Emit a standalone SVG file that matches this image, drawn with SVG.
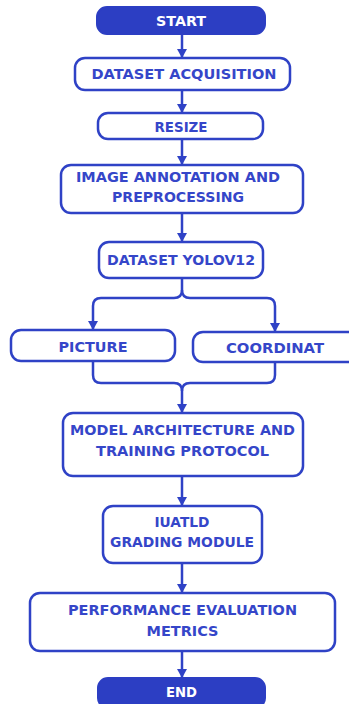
<svg xmlns="http://www.w3.org/2000/svg" width="349" height="704" viewBox="0 0 349 704">
<defs>
<style>
.box{fill:#fff;stroke:#2f42c6;stroke-width:2.5}
.term{fill:#2c3ec3;stroke:#2c3ec3;stroke-width:2}
.t{font-family:"DejaVu Sans","Liberation Sans",sans-serif;font-weight:bold;font-size:13.5px;fill:#3546c9;text-anchor:middle}
.tw{font-family:"DejaVu Sans","Liberation Sans",sans-serif;font-weight:bold;font-size:13.5px;fill:#fff;text-anchor:middle}
.c{fill:none;stroke:#2f42c6;stroke-width:2.5}
</style>
<marker id="ad" markerUnits="userSpaceOnUse" markerWidth="12" markerHeight="10" refX="9" refY="5" orient="auto" viewBox="0 0 12 10">
<path d="M1 0 L10 5 L1 10 Z" fill="#2f42c6"/>
</marker>
</defs>
<rect width="349" height="704" fill="#fff"/>
<g id="connectors">
<path class="c" d="M182 34 V57" marker-end="url(#ad)"/>
<path class="c" d="M182 90 V112" marker-end="url(#ad)"/>
<path class="c" d="M182 139 V164" marker-end="url(#ad)"/>
<path class="c" d="M182 213 V241" marker-end="url(#ad)"/>
<path class="c" d="M182 278 V290 Q182 298 174 298 H101 Q93 298 93 306 V329" marker-end="url(#ad)"/>
<path class="c" d="M182 290 Q182 298 190 298 H267 Q275 298 275 306 V331" marker-end="url(#ad)"/>
<path class="c" d="M93 361 V375 Q93 383 101 383 H174 Q182 383 182 391"/>
<path class="c" d="M275 362 V375 Q275 383 267 383 H190 Q182 383 182 391 V412" marker-end="url(#ad)"/>
<path class="c" d="M182 476 V505" marker-end="url(#ad)"/>
<path class="c" d="M182 563 V592" marker-end="url(#ad)"/>
<path class="c" d="M182 651 V677" marker-end="url(#ad)"/>
</g>
<g id="start"><rect class="term" x="97" y="7" width="168" height="27" rx="10"/><text class="tw" x="181" y="26" textLength="50" lengthAdjust="spacingAndGlyphs">START</text></g>
<g id="acq"><rect class="box" x="75" y="58" width="215" height="32" rx="10"/><text class="t" x="184" y="78.5" textLength="185" lengthAdjust="spacingAndGlyphs">DATASET ACQUISITION</text></g>
<g id="resize"><rect class="box" x="98" y="113" width="165" height="26" rx="10"/><text class="t" x="181" y="131.5" textLength="53" lengthAdjust="spacingAndGlyphs">RESIZE</text></g>
<g id="annot"><rect class="box" x="61" y="165" width="242" height="48" rx="10"/><text class="t" x="178" y="182" textLength="204" lengthAdjust="spacingAndGlyphs">IMAGE ANNOTATION AND</text><text class="t" x="178" y="202" textLength="132" lengthAdjust="spacingAndGlyphs">PREPROCESSING</text></g>
<g id="yolo"><rect class="box" x="99" y="242" width="164" height="36" rx="10"/><text class="t" x="181" y="265" textLength="148" lengthAdjust="spacingAndGlyphs">DATASET YOLOV12</text></g>
<g id="picture"><rect class="box" x="11" y="330" width="164" height="31" rx="10"/><text class="t" x="93" y="351.5" textLength="69" lengthAdjust="spacingAndGlyphs">PICTURE</text></g>
<g id="coord"><rect class="box" x="193" y="332" width="170" height="30" rx="10"/><text class="t" x="275" y="352.5" textLength="98" lengthAdjust="spacingAndGlyphs">COORDINAT</text></g>
<g id="model"><rect class="box" x="63" y="413" width="240" height="63" rx="10"/><text class="t" x="182.5" y="435" textLength="225" lengthAdjust="spacingAndGlyphs">MODEL ARCHITECTURE AND</text><text class="t" x="182.5" y="456" textLength="173" lengthAdjust="spacingAndGlyphs">TRAINING PROTOCOL</text></g>
<g id="iuatld"><rect class="box" x="103" y="506" width="159" height="57" rx="10"/><text class="t" x="182" y="527" textLength="55" lengthAdjust="spacingAndGlyphs">IUATLD</text><text class="t" x="182" y="547" textLength="144" lengthAdjust="spacingAndGlyphs">GRADING MODULE</text></g>
<g id="perf"><rect class="box" x="30" y="593" width="305" height="58" rx="10"/><text class="t" x="182.5" y="615" textLength="229" lengthAdjust="spacingAndGlyphs">PERFORMANCE EVALUATION</text><text class="t" x="182.5" y="636" textLength="72" lengthAdjust="spacingAndGlyphs">METRICS</text></g>
<g id="end"><rect class="term" x="98" y="678" width="167" height="30" rx="10"/><text class="tw" x="181.5" y="697" textLength="31" lengthAdjust="spacingAndGlyphs">END</text></g>
</svg>
